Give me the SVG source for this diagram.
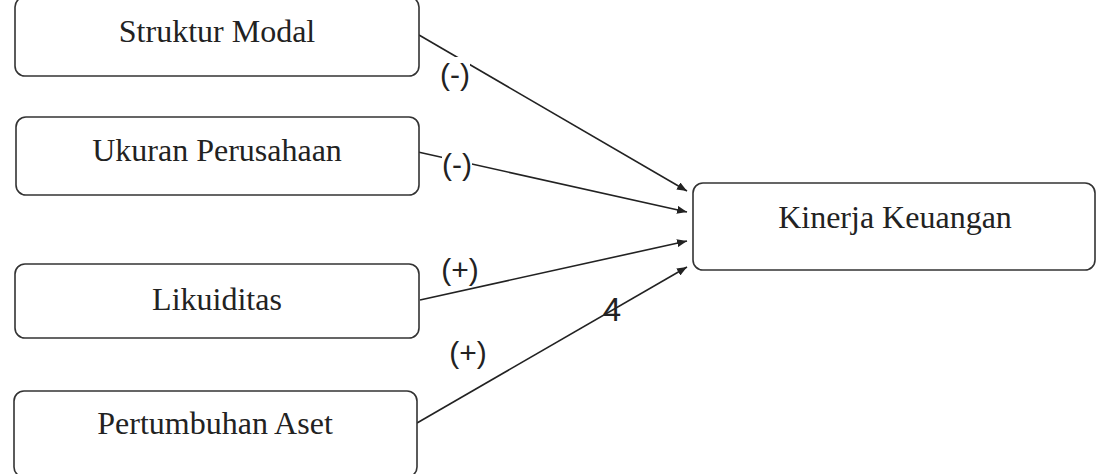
<svg xmlns="http://www.w3.org/2000/svg" width="1097" height="474" viewBox="0 0 1097 474">
<style>
.box{fill:#fff;stroke:#333;stroke-width:1.6}
.t{font-family:"Liberation Serif","Times New Roman",serif;font-size:32px;fill:#222;text-anchor:middle}
.lbl{font-family:"Liberation Sans",Arial,sans-serif;font-size:30px;fill:#222;text-anchor:middle}
.c{stroke:#222;stroke-width:1.6;fill:none;marker-end:url(#ah)}
.bg{fill:#fff}
</style>
<defs>
<marker id="ah" viewBox="0 0 10 8" refX="10" refY="4" markerWidth="10" markerHeight="8" markerUnits="userSpaceOnUse" orient="auto">
<path d="M0,0 L10,4 L0,8 z" fill="#222"/>
</marker>
</defs>
<g id="connectors">
<line class="c" x1="419" y1="35" x2="687" y2="191"/>
<line class="c" x1="418" y1="152" x2="687" y2="212"/>
<line class="c" x1="420" y1="300" x2="687" y2="241"/>
<line class="c" x1="417" y1="423" x2="687" y2="267"/>
<rect class="bg" x="441" y="57" width="29" height="36"/>
<text class="lbl" x="455" y="85">(-)</text>
<rect class="bg" x="442" y="148" width="30" height="36"/>
<text class="lbl" x="457" y="175">(-)</text>
<text class="lbl" x="460" y="280">(+)</text>
<text class="lbl" x="468" y="363">(+)</text>
<text class="lbl" x="612" y="321" style="font-size:33px">4</text>
</g>
<g id="struktur-modal">
<rect class="box" x="15" y="-3" width="404" height="79" rx="10"/>
<text class="t" x="217" y="42">Struktur Modal</text>
</g>
<g id="ukuran-perusahaan">
<rect class="box" x="16" y="117" width="403" height="78" rx="10"/>
<text class="t" x="217" y="161">Ukuran Perusahaan</text>
</g>
<g id="likuiditas">
<rect class="box" x="15" y="264" width="404" height="74" rx="10"/>
<text class="t" x="217" y="310">Likuiditas</text>
</g>
<g id="pertumbuhan-aset">
<rect class="box" x="14" y="391" width="403" height="86" rx="10"/>
<text class="t" x="215" y="434">Pertumbuhan Aset</text>
</g>
<g id="kinerja-keuangan">
<rect class="box" x="693" y="183" width="402" height="87" rx="10"/>
<text class="t" x="895" y="228">Kinerja Keuangan</text>
</g>
</svg>
